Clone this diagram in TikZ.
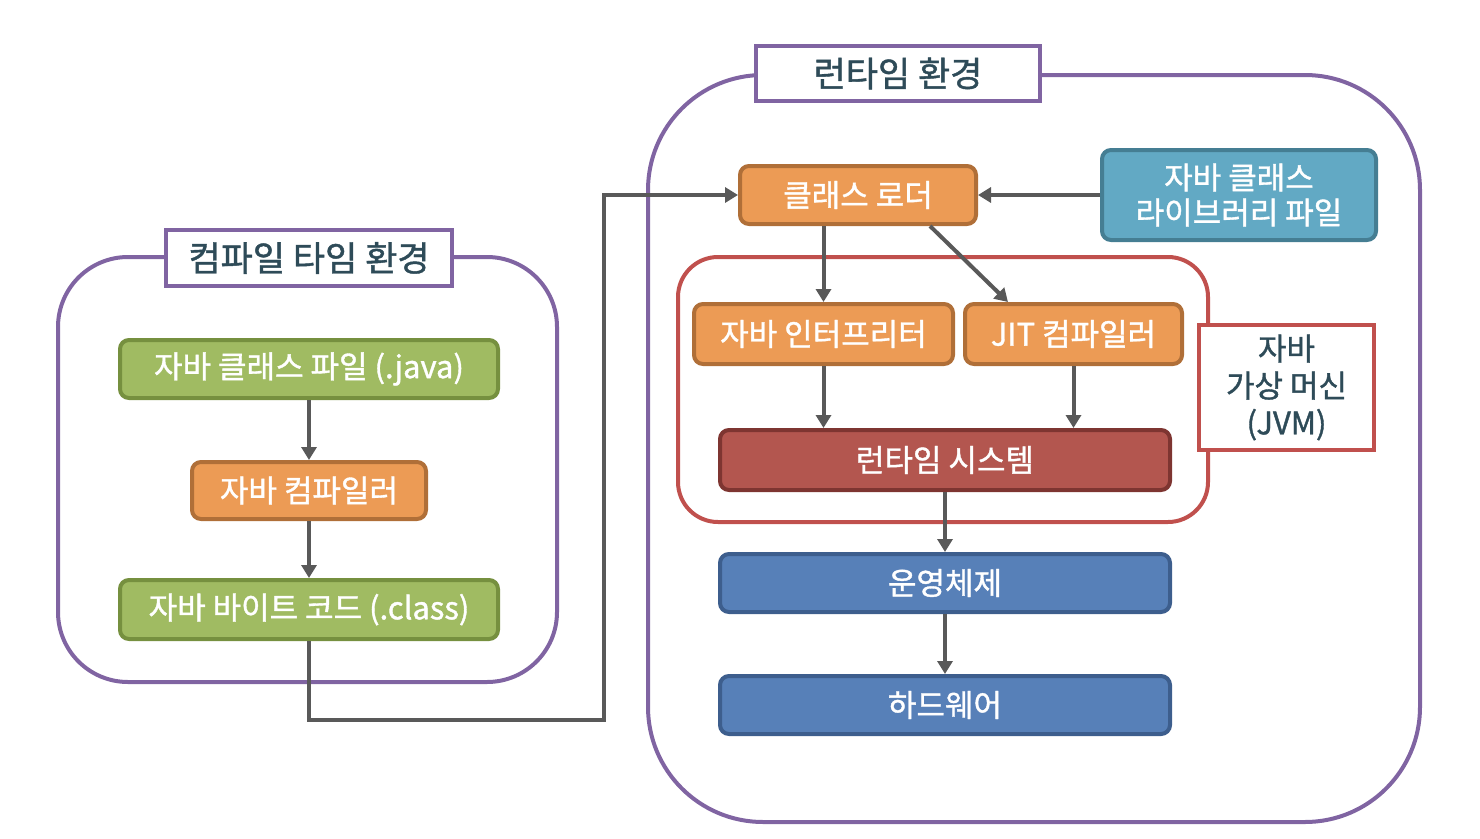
\documentclass[tikz,border=0pt]{standalone}
\usepackage{fontspec}
\setmainfont{Noto Sans CJK KR}
\newfontfamily\boxfont{Noto Sans CJK KR}[FakeBold=1.2]
\usetikzlibrary{arrows.meta,calc}
\definecolor{cpurple}{HTML}{8064A2}
\definecolor{cgreen}{HTML}{A0BB62}
\definecolor{cgreenb}{HTML}{76903F}
\definecolor{corange}{HTML}{EC9B55}
\definecolor{coranged}{HTML}{B06F38}
\definecolor{cred}{HTML}{B3564F}
\definecolor{credd}{HTML}{7E3531}
\definecolor{cblue}{HTML}{5780B8}
\definecolor{cblued}{HTML}{3D5E8D}
\definecolor{cteal}{HTML}{62A9C4}
\definecolor{cteald}{HTML}{457E93}
\definecolor{cjvm}{HTML}{C0504D}
\definecolor{ctext}{HTML}{2E4B58}
\definecolor{carrow}{HTML}{595959}
\begin{document}
\begin{tikzpicture}[x=1pt,y=-1pt,
  box/.style={draw, line width=4pt, rounded corners=9pt, text=white, inner sep=0pt, align=center,
    font=\boxfont\fontsize{31}{35}\selectfont},
  gbox/.style={box, fill=cgreen, draw=cgreenb},
  obox/.style={box, fill=corange, draw=coranged},
  rbox/.style={box, fill=cred, draw=credd},
  bbox/.style={box, fill=cblue, draw=cblued},
  tbox/.style={box, fill=cteal, draw=cteald},
  titlebox/.style={draw=cpurple, fill=white, line width=4pt, inner sep=0pt, text=ctext,
    font=\boxfont\fontsize{35}{40}\selectfont},
  env/.style={draw=cpurple, line width=4pt},
  conn/.style={draw=carrow, line width=4pt, -{Triangle[width=15pt,length=13pt]}},
  plain/.style={draw=carrow, line width=4pt}
]
\useasboundingbox (0,0) rectangle (1480,838);
% environments
\draw[env, rounded corners=70pt] (58,257) rectangle (557,682);
\draw[env, rounded corners=115pt] (648,75) rectangle (1420,822);
\draw[draw=cjvm, line width=4pt, rounded corners=40pt] (678,257) rectangle (1208,522);
% titles
\node[titlebox, minimum width=286pt, minimum height=56pt] (tl) at (309,258) {컴파일 타임 환경};
\node[titlebox, minimum width=284pt, minimum height=55pt] (tr) at (898,73.5) {런타임 환경};
\node[draw=cjvm, fill=white, line width=4pt, inner sep=0pt, text=ctext, align=center,
  font=\boxfont\fontsize{31}{37}\selectfont, minimum width=175pt, minimum height=125pt] (jvm) at (1286.5,387.5)
  {자바\\가상 머신\\(JVM)};
% compile-time boxes
\node[gbox, minimum width=378pt, minimum height=58pt] (gj) at (309,369) {자바 클래스 파일 (.java)};
\node[obox, minimum width=234pt, minimum height=57pt] (gc) at (309,490.5) {자바 컴파일러};
\node[gbox, minimum width=378pt, minimum height=59pt] (gb) at (309,609.5) {자바 바이트 코드 (.class)};
% runtime boxes
\node[obox, minimum width=236pt, minimum height=58pt] (cl) at (858,195) {클래스 로더};
\node[tbox, minimum width=274pt, minimum height=90pt] (lib) at (1239,195) {자바 클래스\\라이브러리 파일};
\node[obox, minimum width=259pt, minimum height=60pt] (interp) at (823.5,334) {자바 인터프리터};
\node[obox, minimum width=217pt, minimum height=60pt] (jit) at (1073.5,334) {JIT 컴파일러};
\node[rbox, minimum width=450pt, minimum height=60pt] (rt) at (945,460) {런타임 시스템};
\node[bbox, minimum width=450pt, minimum height=58pt] (os) at (945,583) {운영체제};
\node[bbox, minimum width=450pt, minimum height=58pt] (hw) at (945,705) {하드웨어};
% connectors
\draw[conn] (gj.south) -- (gc.north);
\draw[conn] (gc.south) -- (gb.north);
\coordinate (bend) at (604,720);
\draw[conn] (gb.south) |- (bend) |- (cl.west);
\draw[conn] (lib.west) -- (cl.east);
\draw[conn] (cl.south -| interp.north) -- (interp.north);
\draw[conn] ([xshift=-48pt]cl.south east) -- ([xshift=45pt]jit.north west);
\draw[conn] (interp.south) -- (interp.south |- rt.north);
\draw[conn] (jit.south) -- (jit.south |- rt.north);
\draw[conn] (rt.south) -- (os.north);
\draw[conn] (os.south) -- (hw.north);
\end{tikzpicture}
\end{document}
